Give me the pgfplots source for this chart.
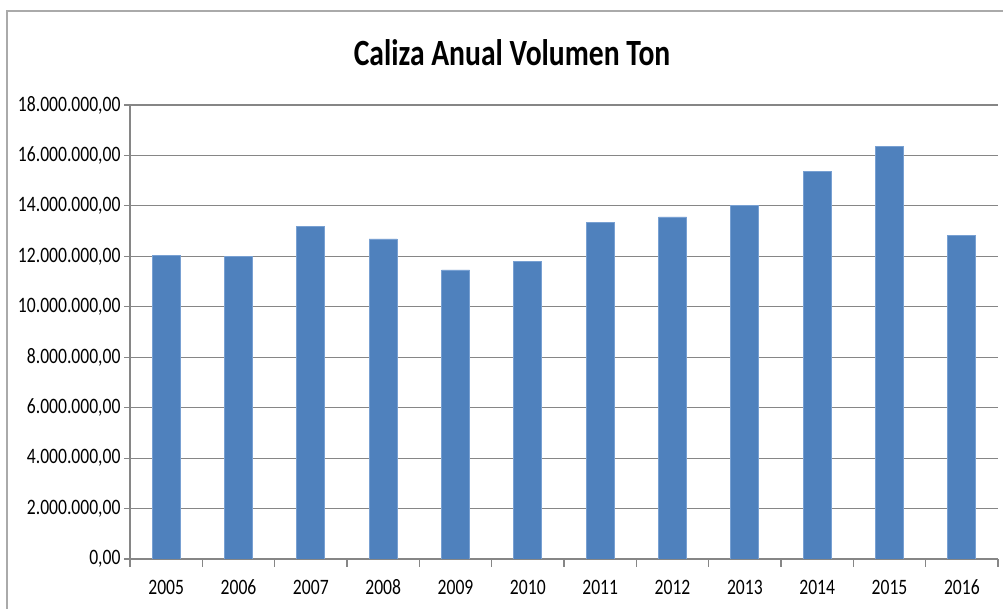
\documentclass[border=0pt]{standalone}
\usepackage{fontspec}
\setmainfont{Carlito}[FakeStretch=0.8]
\usepackage{pgfplots}
\pgfplotsset{compat=1.18}
\definecolor{barblue}{RGB}{79,129,189}
\definecolor{baredge}{RGB}{120,160,210}
\definecolor{gridgray}{RGB}{134,134,134}
\definecolor{framegray}{RGB}{170,170,170}
\begin{document}
\begin{tikzpicture}[x=1pt,y=1pt]
\useasboundingbox (0,0) rectangle (1003,609);
\draw[framegray, line width=1.5pt] (7,-5) -- (7,598) -- (1010,598);
\node[font=\fontsize{37}{40}\selectfont\bfseries, anchor=base] at (512,543) {Caliza Anual Volumen Ton};
\begin{axis}[at={(130pt,50pt)}, anchor=south west, scale only axis,
  width=868pt, height=454pt,
  xmin=-0.5, xmax=11.5, ymin=0, ymax=18000000,
  axis x line=bottom, axis y line=left,
  axis line style={gridgray, line width=1.2pt, -},
  ytick={0,2000000,4000000,6000000,8000000,10000000,12000000,14000000,16000000,18000000},
  yticklabels={{0,00},{2.000.000,00},{4.000.000,00},{6.000.000,00},{8.000.000,00},{10.000.000,00},{12.000.000,00},{14.000.000,00},{16.000.000,00},{18.000.000,00}},
  ymajorgrids, grid style={gridgray, line width=1.2pt},
  xtick={0,...,11},
  xticklabels={2005,2006,2007,2008,2009,2010,2011,2012,2013,2014,2015,2016},
  minor xtick={-0.5,0.5,...,11.5},
  major tick length=6pt, minor tick length=8pt,
  major x tick style={draw=none},
  tick align=outside,
  tick style={gridgray, line width=1.2pt},
  xticklabel style={font=\fontsize{22}{24}\selectfont, text height=14pt, text depth=0pt, yshift=-12pt},
  yticklabel style={font=\fontsize{22}{24}\selectfont},
  scaled y ticks=false,
]
\addplot[ybar, bar width=28pt, fill=barblue, draw=baredge, line width=0.8pt] coordinates {
  (0,12020000) (1,12000000) (2,13200000) (3,12690000) (4,11460000) (5,11780000)
  (6,13360000) (7,13560000) (8,14000000) (9,15380000) (10,16350000) (11,12830000)
};
\end{axis}
\end{tikzpicture}
\end{document}
